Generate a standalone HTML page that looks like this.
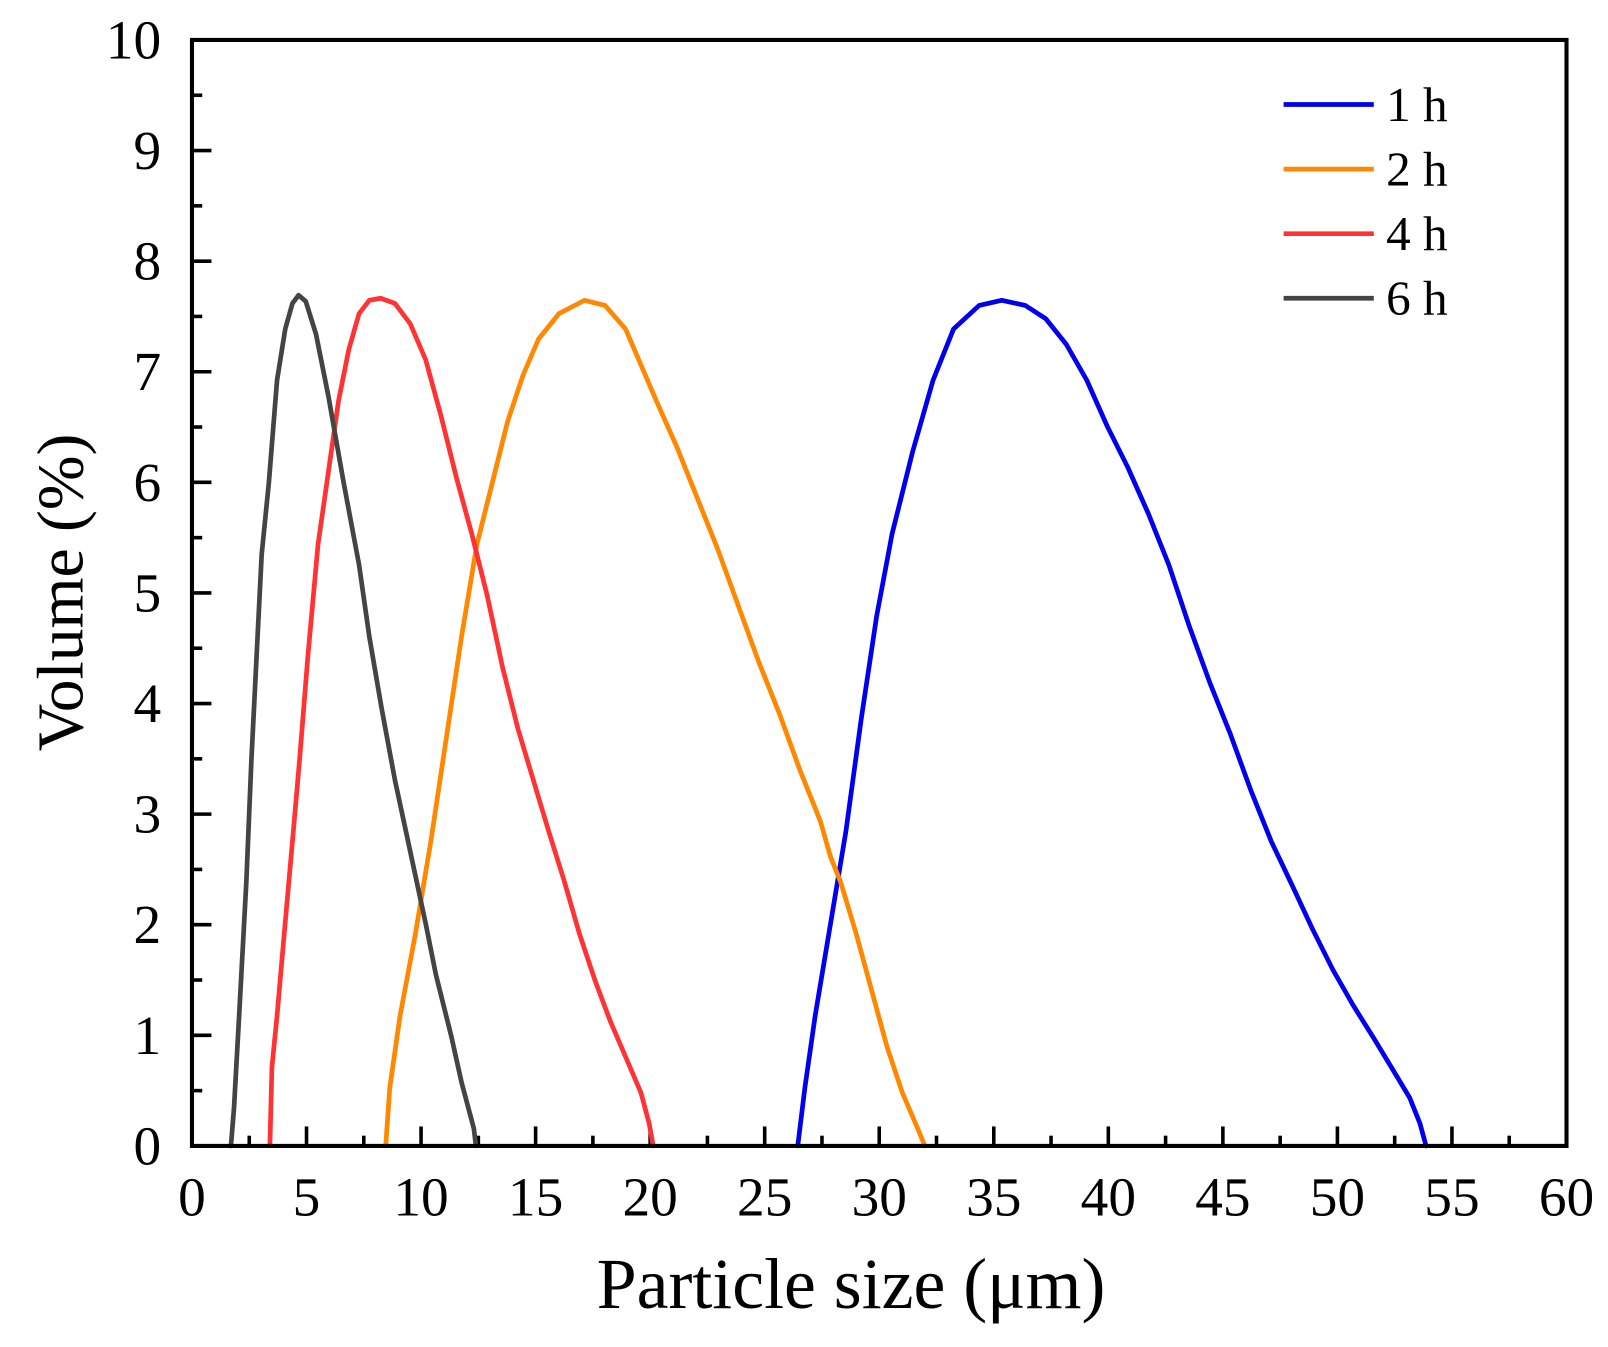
<!DOCTYPE html>
<html><head><meta charset="utf-8"><style>html,body{margin:0;padding:0;background:#fff}</style></head>
<body>
<svg width="1608" height="1342" viewBox="0 0 1608 1342" xmlns="http://www.w3.org/2000/svg" font-family="Liberation Serif, serif">
<rect x="0" y="0" width="1608" height="1342" fill="#fff"/>
<g transform="translate(0.3,1) scale(1.025)">
<g id="ticks" stroke="#000" stroke-width="3.5"></g>
<g fill="none" stroke-width="4.6" stroke-linejoin="round" stroke-linecap="round">
<polyline stroke="#0000ee" points="778,1117 785,1060 795,990 810,900 825,810 840,700 855,600 870,520 890,440 910,370 930,320 955,297 977,292 1000,297 1020,310 1040,335 1060,370 1080,415 1100,455 1120,500 1140,550 1160,610 1180,665 1200,715 1220,770 1240,820 1260,862 1280,905 1300,945 1320,980 1340,1012 1360,1045 1375,1070 1385,1095 1391,1117"/>
<polyline stroke="#ff8800" points="376,1117 380,1060 390,990 405,910 420,820 435,720 450,620 465,530 480,470 495,410 510,365 525,330 545,305 570,292 590,297 610,320 625,355 640,390 660,435 680,485 700,535 720,590 740,645 760,695 780,750 800,800 810,835 820,860 835,910 850,965 865,1020 880,1065 895,1100 902,1117"/>
<polyline stroke="#ff3333" points="263,1117 265,1040 270,990 277,910 285,820 292,740 300,640 310,530 320,460 330,390 340,340 350,305 360,292 371,290 385,295 400,315 415,350 430,405 445,465 460,520 475,580 490,650 505,710 520,760 535,810 550,858 565,910 580,955 595,995 610,1030 625,1065 633,1095 637,1117"/>
<polyline stroke="#444444" points="225,1117 228,1080 233,990 240,860 245,740 250,640 255,540 262,470 270,370 278,320 285,295 291,287 298,293 308,325 320,385 335,470 350,550 360,620 372,690 385,760 400,830 415,900 425,950 440,1010 450,1055 462,1100 464,1117"/>
</g>
<rect x="187" y="38" width="1341" height="1079" fill="none" stroke="#000" stroke-width="4"/>
<g id="xl" font-size="54" text-anchor="middle"></g>
<g id="yl" font-size="54" text-anchor="end"></g>
<text x="830" y="1275" font-size="70" text-anchor="middle">Particle size (μm)</text>
<text transform="translate(80,577) rotate(-90)" font-size="64" text-anchor="middle">Volume (%)</text>
<g stroke-width="4.6">
<line x1="1252" y1="101" x2="1340" y2="101" stroke="#0000ee"/>
<line x1="1252" y1="164" x2="1340" y2="164" stroke="#ff8800"/>
<line x1="1252" y1="227" x2="1340" y2="227" stroke="#ff3333"/>
<line x1="1252" y1="290" x2="1340" y2="290" stroke="#444444"/>
</g>
<g font-size="48">
<text x="1352" y="117">1 h</text>
<text x="1352" y="180">2 h</text>
<text x="1352" y="243">4 h</text>
<text x="1352" y="306">6 h</text>
</g>
</g>
</svg>
<script>
var ns="http://www.w3.org/2000/svg",t=document.getElementById('ticks'),xl=document.getElementById('xl'),yl=document.getElementById('yl');
function L(a,b,c,d){var l=document.createElementNS(ns,'line');l.setAttribute('x1',a);l.setAttribute('y1',b);l.setAttribute('x2',c);l.setAttribute('y2',d);t.appendChild(l);}
function T(g,x,y,s){var e=document.createElementNS(ns,'text');e.setAttribute('x',x);e.setAttribute('y',y);e.textContent=s;g.appendChild(e);}
for(var i=0;i<=24;i++){var x=187+i*1341/24;var len=i%2?10:19;L(x,1117,x,1117-len);if(i%2==0)T(xl,x,1185,String(i*2.5));}
for(var j=0;j<=20;j++){var y=1117-j*107.9/2;var len=j%2?10:19;L(187,y,187+len,y);if(j%2==0)T(yl,157,y+18,String(j/2));}
</script>
</body></html>
